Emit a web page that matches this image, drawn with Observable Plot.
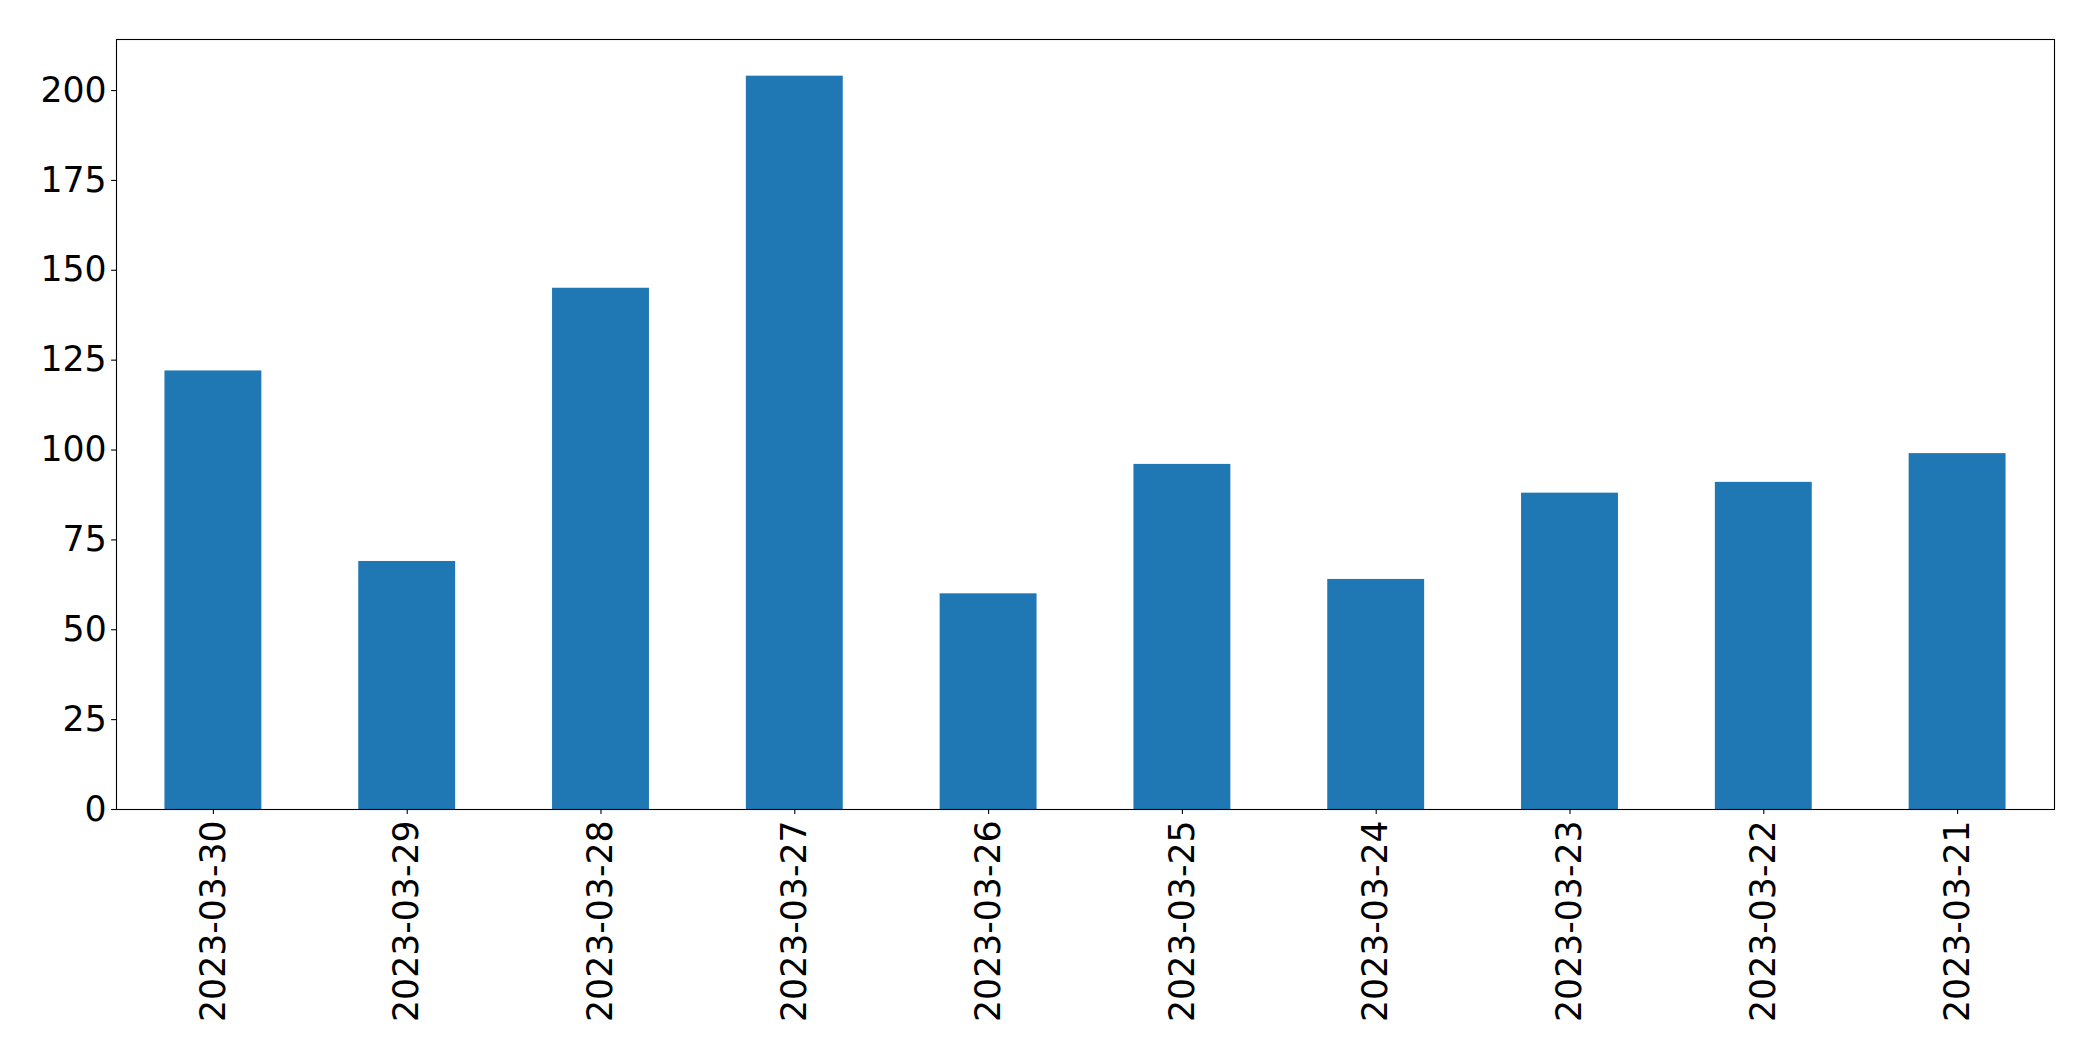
<!DOCTYPE html>
<html>
<head>
<meta charset="utf-8">
<script src="https://cdn.jsdelivr.net/npm/d3@7"></script>
<script src="https://cdn.jsdelivr.net/npm/@observablehq/plot@0.6"></script>
<style>
  html, body { margin: 0; padding: 0; background: white; }
</style>
</head>
<body>
<div id="chart"></div>
<script>
const dates = ["2023-03-30", "2023-03-29", "2023-03-28", "2023-03-27", "2023-03-26", "2023-03-25", "2023-03-24", "2023-03-23", "2023-03-22", "2023-03-21"];
const counts = [122, 69, 145, 204, 60, 96, 64, 88, 91, 99];
const yTicks = [0, 25, 50, 75, 100, 125, 150, 175, 200];

const data = dates.map((d, i) => ({date: d, count: counts[i]}));
const yMax = d3.max(counts) * 1.05;

const chart = Plot.plot({
  width: 2093,
  height: 1061,
  marginLeft: 116,
  marginRight: 39,
  marginTop: 39,
  marginBottom: 252,
  style: {fontFamily: "DejaVu Sans", fontSize: "34.7px", color: "black", background: "white", overflow: "visible"},
  x: {type: "band", domain: dates, paddingInner: 0.5, paddingOuter: 0.25, round: false, label: null},
  y: {domain: [0, yMax], label: null},
  marks: [
    Plot.barY(data, {x: "date", y: "count", fill: "#1f77b4"}),
    Plot.axisY({ticks: yTicks, tickSize: 4.9, tickPadding: 4.9, label: null, strokeWidth: 1.1, fontSize: 34.7}),
    Plot.axisX({tickRotate: -90, tickSize: 4.9, tickPadding: 6, label: null, strokeWidth: 1.1, fontSize: 34.7}),
    Plot.frame({stroke: "black", strokeWidth: 1.1})
  ]
});
document.getElementById("chart").appendChild(chart);
</script>
</body>
</html>
